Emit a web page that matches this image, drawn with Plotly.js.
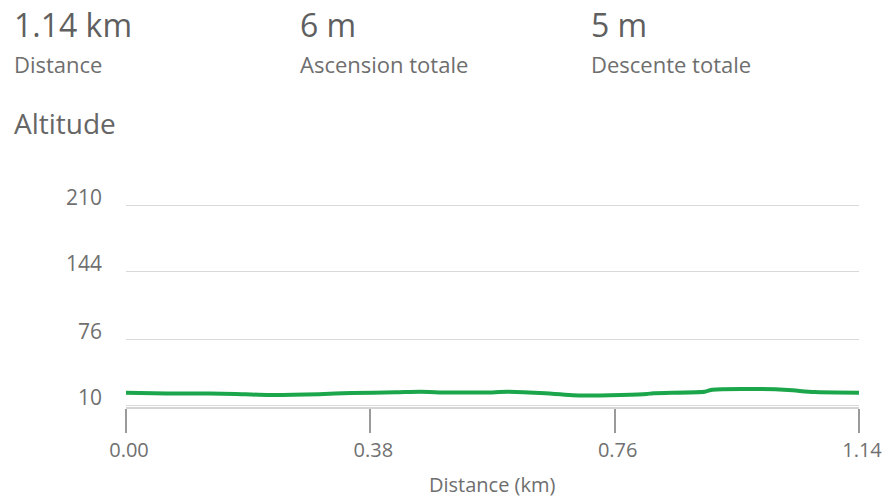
<!DOCTYPE html>
<html>
<head>
<meta charset="utf-8">
<script src="https://cdn.plot.ly/plotly-3.0.1.min.js"></script>
<style>
  html, body { margin: 0; padding: 0; background: #ffffff; overflow: hidden; }
  #chart { width: 884px; height: 497px; }
</style>
</head>
<body>
<div id="chart"></div>
<script>
// ---- data ----
var distanceKm = [0, 0.064, 0.13, 0.17, 0.22, 0.30, 0.35, 0.42, 0.457, 0.50, 0.56, 0.593, 0.644, 0.71, 0.77, 0.81, 0.82, 0.90, 0.912, 0.98, 1.03, 1.07, 1.14];
var altitudeM  = [22.7, 21.9, 22.0, 21.5, 20.6, 21.3, 22.5, 23.2, 23.8, 23.0, 23.0, 23.8, 22.5, 20.0, 20.6, 21.5, 22.3, 23.8, 25.8, 26.5, 25.5, 23.5, 22.8];

var yTickVals = [10, 76, 144, 210];
var xTickVals = [0, 0.38, 0.76, 1.14];
var xTickText = ['0.00', '0.38', '0.76', '1.14'];

var summaryValues = ['1.14 km', '6 m', '5 m'];
var summaryLabels = ['Distance', 'Ascension totale', 'Descente totale'];
var sectionTitle = 'Altitude';
var xAxisTitle = 'Distance (km)';

// ---- layout helpers (pixel -> paper) ----
var W = 884, H = 497;
var M = { l: 126, r: 25, t: 204, b: 90 };
var plotW = W - M.l - M.r, plotH = H - M.t - M.b;
function px(x) { return (x - M.l) / plotW; }
function py(y) { return (H - M.b - y) / plotH; }

var FONT = '"Open Sans", "Noto Sans", sans-serif';
var summaryX = [12, 298, 589];
var annotations = [];
for (var i = 0; i < summaryValues.length; i++) {
  annotations.push({
    xref: 'paper', yref: 'paper', x: px(summaryX[i]), y: py(24),
    xanchor: 'left', yanchor: 'middle', showarrow: false,
    text: summaryValues[i], font: { family: FONT, size: 32, color: '#5f5f5f' }
  });
  annotations.push({
    xref: 'paper', yref: 'paper', x: px(summaryX[i]), y: py(64),
    xanchor: 'left', yanchor: 'middle', showarrow: false,
    text: summaryLabels[i], font: { family: FONT, size: 22, color: '#6e6e6e' }
  });
}
annotations.push({
  xref: 'paper', yref: 'paper', x: px(12), y: py(123),
  xanchor: 'left', yanchor: 'middle', showarrow: false,
  text: sectionTitle, font: { family: FONT, size: 28, color: '#666666' }
});
// x axis title, placed as in the reference
annotations.push({
  xref: 'paper', yref: 'paper', x: 0.5, y: py(484),
  xanchor: 'center', yanchor: 'middle', showarrow: false,
  text: xAxisTitle, font: { family: FONT, size: 20, color: '#6e6e6e' }
});

var trace = {
  type: 'scatter', mode: 'lines',
  x: distanceKm, y: altitudeM,
  line: { color: '#1ca64b', width: 4, shape: 'spline', smoothing: 0.6 },
  hoverinfo: 'x+y'
};

var layout = {
  width: W, height: H,
  margin: M,
  paper_bgcolor: '#ffffff', plot_bgcolor: '#ffffff',
  showlegend: false,
  font: { family: FONT, color: '#6e6e6e' },
  xaxis: {
    range: [0, 1.14], fixedrange: true,
    tickmode: 'array', tickvals: xTickVals, ticktext: xTickText,
    showgrid: false, zeroline: false,
    showline: true, linecolor: '#d4d4d4', linewidth: 2,
    ticks: 'outside', ticklen: 24, tickwidth: 2, tickcolor: '#9a9a9a',
    ticklabelshift: 3, ticklabelstandoff: 0, ticklabeloverflow: 'allow',
    tickfont: { family: FONT, size: 20, color: '#707070' }
  },
  yaxis: {
    range: [8.5, 211.5], fixedrange: true,
    tickmode: 'array', tickvals: yTickVals,
    showgrid: true, gridcolor: '#d9d9d9', gridwidth: 1.5,
    zeroline: false, showline: false, ticks: '',
    ticklabelshift: -8, ticklabelstandoff: 23,
    tickfont: { family: FONT, size: 21, color: '#707070' }
  },
  annotations: annotations
};

Plotly.newPlot('chart', [trace], layout, { displayModeBar: false, staticPlot: true });
</script>
</body>
</html>
